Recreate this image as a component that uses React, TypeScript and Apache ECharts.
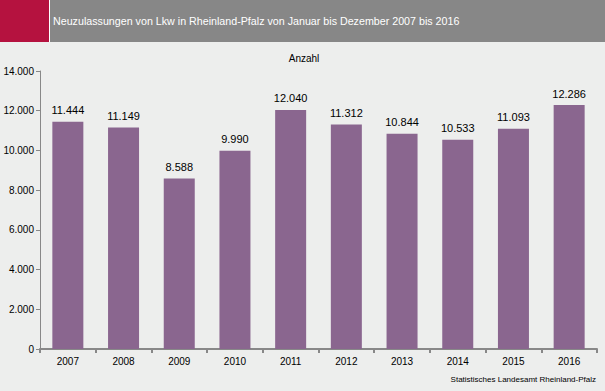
import React, { useEffect, useRef } from "react";
import * as echarts from "echarts";

const categories = ["2007", "2008", "2009", "2010", "2011", "2012", "2013", "2014", "2015", "2016"];
const values = [11444, 11149, 8588, 9990, 12040, 11312, 10844, 10533, 11093, 12286];
const titleText = "Neuzulassungen von Lkw in Rheinland-Pfalz von Januar bis Dezember 2007 bis 2016";
const unitText = "Anzahl";
const sourceText = "Statistisches Landesamt Rheinland-Pfalz";

const fmt = (v: number) => String(Math.round(v)).replace(/\B(?=(\d{3})+(?!\d))/g, ".");

export default function App() {
  const ref = useRef<HTMLDivElement>(null);
  useEffect(() => {
    if (!ref.current) return;
    const chart = echarts.init(ref.current, undefined, { renderer: "svg" });
    const font = "Liberation Sans, Arial, sans-serif";
    chart.setOption({
      animation: false,
      backgroundColor: "#edeeed",
      textStyle: { fontFamily: font },
      graphic: [
        { type: "rect", shape: { x: 0, y: 0, width: 605, height: 42 }, style: { fill: "#878787" } },
        { type: "rect", shape: { x: 0, y: 0, width: 49, height: 42 }, style: { fill: "#b5123f" } },
        { type: "rect", shape: { x: 49, y: 0, width: 1, height: 42 }, style: { fill: "#ffffff" } },
        {
          type: "text",
          x: 53,
          y: 21,
          style: { text: titleText, fill: "#ffffff", font: `10.7px ${font}`, textVerticalAlign: "middle" },
        },
        {
          type: "text",
          x: 304,
          y: 58,
          style: { text: unitText, fill: "#000000", font: `10px ${font}`, textAlign: "center", textVerticalAlign: "middle" },
        },
        {
          type: "text",
          right: 9,
          top: 375,
          style: { text: sourceText, fill: "#000000", font: `8px ${font}` },
        },
      ],
      grid: { left: 40, right: 8, top: 71, bottom: 42, containLabel: false },
      xAxis: {
        type: "category",
        data: categories,
        axisLine: { lineStyle: { color: "#888888", width: 2 } },
        axisTick: { show: true, alignWithLabel: false, lineStyle: { color: "#888888", width: 2 }, length: 4 },
        axisLabel: { color: "#000000", fontSize: 10, fontFamily: font, margin: 7 },
      },
      yAxis: {
        type: "value",
        min: 0,
        max: 14000,
        interval: 2000,
        axisLine: { show: true, lineStyle: { color: "#888888", width: 1 } },
        axisTick: { show: true, inside: false, length: 4, lineStyle: { color: "#888888" } },
        splitLine: { show: false },
        axisLabel: { color: "#000000", fontSize: 10, fontFamily: font, margin: 6, formatter: (v: number) => fmt(v) },
      },
      series: [
        {
          type: "bar",
          data: values,
          barWidth: 31,
          itemStyle: { color: "#8a668f" },
          label: {
            show: true,
            position: "top",
            distance: 6,
            color: "#000000",
            fontSize: 11,
            fontFamily: font,
            formatter: (p: any) => fmt(p.value),
          },
        },
      ],
    });
    return () => chart.dispose();
  }, []);
  return <div ref={ref} style={{ width: 605, height: 391, position: "fixed", left: 0, top: 0 }} />;
}
